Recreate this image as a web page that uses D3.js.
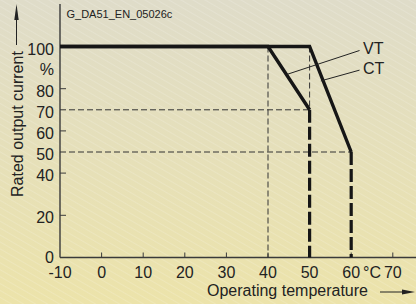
<!DOCTYPE html>
<html><head><meta charset="utf-8">
<script src="https://cdn.jsdelivr.net/npm/d3@7/dist/d3.min.js"></script>
<style>html,body{margin:0;padding:0;overflow:hidden;background:#e6e0bb;}svg{display:block;}</style>
</head><body>
<script>
// ---- data ----
const vtTemp = [-10, 40, 50];
const vtCurrent = [100, 100, 70];
const ctTemp = [-10, 50, 60];
const ctCurrent = [100, 100, 50];
const xTickValues = [-10, 0, 10, 20, 30, 40, 50, 60, 70];
const yTickMarks = [20, 40, 60, 80];
const yTickLabels = [0, 20, 40, 50, 60, 70, 80, 100];
const chartTitle = "G_DA51_EN_05026c";
const xTitle = "Operating temperature";
const yTitle = "Rated output current";
const seriesNames = ["VT", "CT"];

const W = 416, H = 304;
const svg = d3.select("body").append("svg").attr("width", W).attr("height", H)
  .style("font-family", "'Liberation Sans', Arial, sans-serif");

const defs = svg.append("defs");
const grad = defs.append("linearGradient").attr("id", "bg").attr("x1", 0).attr("y1", 0).attr("x2", 0).attr("y2", 1);
grad.append("stop").attr("offset", 0).attr("stop-color", "#dfdcc9");
grad.append("stop").attr("offset", 1).attr("stop-color", "#ece3aa");
const pat = defs.append("pattern").attr("id", "stripes").attr("patternUnits", "userSpaceOnUse")
  .attr("width", 6).attr("height", 6).attr("patternTransform", "rotate(-60)");
pat.append("line").attr("x1", 0).attr("y1", 0).attr("x2", 0).attr("y2", 6)
  .attr("stroke", "#ffffff").attr("stroke-opacity", 0.3).attr("stroke-width", 1);
svg.append("rect").attr("width", W).attr("height", H).attr("fill", "url(#bg)");
svg.append("rect").attr("width", W).attr("height", H).attr("fill", "url(#stripes)");

const x = d3.scaleLinear().domain([-10, 70]).range([60, 392.8]);
const y = d3.scaleLinear().domain([0, 100]).range([257.5, 46.5]);

const axisColor = "#3a3a3a";
// axes lines
svg.append("line").attr("x1", x(-10)).attr("x2", W).attr("y1", y(0)).attr("y2", y(0))
  .attr("stroke", axisColor).attr("stroke-width", 1.4);
svg.append("line").attr("x1", x(-10)).attr("x2", x(-10)).attr("y1", y(0)).attr("y2", 4)
  .attr("stroke", axisColor).attr("stroke-width", 1.4);

// x ticks (upward)
svg.selectAll(".xt").data(xTickValues.filter(d => d > -10)).enter().append("line")
  .attr("x1", d => x(d)).attr("x2", d => x(d)).attr("y1", y(0)).attr("y2", y(0) - 5)
  .attr("stroke", axisColor).attr("stroke-width", 1);
// y ticks (right)
svg.selectAll(".yt").data(yTickMarks).enter().append("line")
  .attr("x1", x(-10)).attr("x2", x(-10) + 6).attr("y1", d => y(d)).attr("y2", d => y(d))
  .attr("stroke", axisColor).attr("stroke-width", 1);

const textColor = "#222";
// x tick labels
svg.selectAll(".xl").data(xTickValues).enter().append("text")
  .attr("x", d => x(d)).attr("y", 277.5).attr("text-anchor", "middle")
  .attr("font-size", 16).attr("fill", textColor).text(d => d);
svg.append("text").attr("x", 363).attr("y", 277.5).attr("font-size", 16).attr("fill", textColor).text("°C");

// y tick labels
svg.selectAll(".yl").data(yTickLabels).enter().append("text")
  .attr("x", 54).attr("y", d => y(d) + (d === 0 ? 5 : 8)).attr("text-anchor", "end")
  .attr("font-size", 16).attr("fill", textColor).text(d => d);
svg.append("text").attr("x", 54).attr("y", y(90) + 7).attr("text-anchor", "end")
  .attr("font-size", 16).attr("fill", textColor).text("%");

// title
svg.append("text").attr("x", 66.5).attr("y", 18).attr("font-size", 11).attr("fill", textColor).text(chartTitle);

// dashed reference lines (thin)
const thin = {stroke: "#333", "stroke-width": 1, "stroke-dasharray": "6,3"};
function seg(x1, y1, x2, y2, style) {
  const l = svg.append("line").attr("x1", x(x1)).attr("y1", y(y1)).attr("x2", x(x2)).attr("y2", y(y2));
  for (const k in style) l.attr(k, style[k]);
  return l;
}
seg(-10, vtCurrent[2], vtTemp[2], vtCurrent[2], thin);
seg(-10, ctCurrent[2], ctTemp[2], ctCurrent[2], thin);
seg(vtTemp[1], 100, vtTemp[1], 0, thin);
seg(ctTemp[1], 100, ctTemp[1], vtCurrent[2], thin);

// thick dashed drops
const thickD = {stroke: "#161616", "stroke-width": 3.2, "stroke-dasharray": "13,4"};
seg(vtTemp[2], vtCurrent[2], vtTemp[2], 0, thickD);
seg(ctTemp[2], ctCurrent[2], ctTemp[2], 0, thickD);

// curves
const line = d3.line().x(d => x(d[0])).y(d => y(d[1]));
[[vtTemp, vtCurrent], [ctTemp, ctCurrent]].forEach(([t, c]) => {
  svg.append("path").attr("d", line(t.map((v, i) => [v, c[i]])))
    .attr("fill", "none").attr("stroke", "#161616").attr("stroke-width", 3.4)
    .attr("stroke-linejoin", "miter");
});

// leaders and labels
const thinLeader = {stroke: "#222", "stroke-width": 1};
seg(44.6, 86.8, 62, 98.1, thinLeader);
seg(52.7, 83.7, 62, 88.8, thinLeader);
svg.append("text").attr("x", 363).attr("y", 54).attr("font-size", 16).attr("fill", textColor).text(seriesNames[0]);
svg.append("text").attr("x", 363).attr("y", 74).attr("font-size", 16).attr("fill", textColor).text(seriesNames[1]);

// axis titles
svg.append("text").attr("x", 207).attr("y", 296).attr("font-size", 16).attr("fill", textColor).text(xTitle);
svg.append("text").attr("transform", "translate(23,197) rotate(-90)").attr("font-size", 16)
  .attr("fill", textColor).text(yTitle);

// arrows
svg.append("line").attr("x1", 16.5).attr("x2", 16.5).attr("y1", 45).attr("y2", 14).attr("stroke", "#222").attr("stroke-width", 1);
svg.append("path").attr("d", "M16.5,4 L14.3,20 L18.7,20 Z").attr("fill", "#222");
svg.append("line").attr("x1", 380).attr("x2", 406).attr("y1", 292).attr("y2", 292).attr("stroke", "#222").attr("stroke-width", 1);
svg.append("path").attr("d", "M415,292 L402,289.6 L402,294.4 Z").attr("fill", "#222");
</script>
</body></html>
